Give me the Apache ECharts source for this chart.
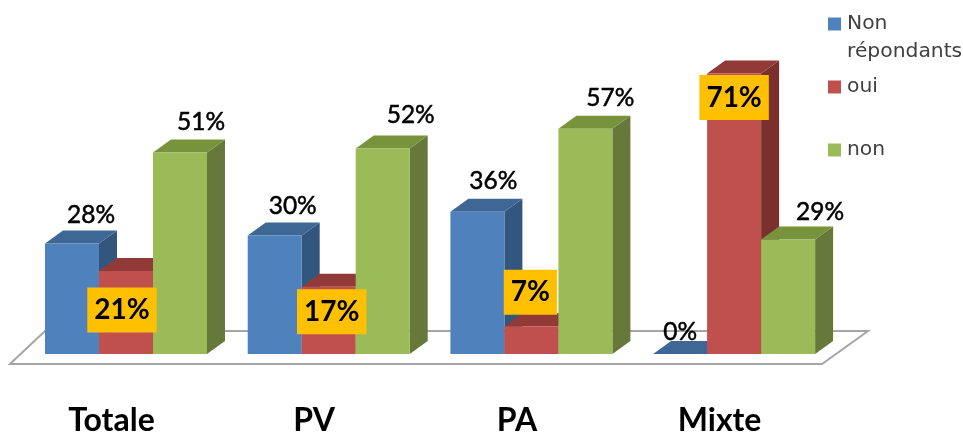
<!DOCTYPE html>
<html><head><meta charset="utf-8">
<style>html,body{margin:0;padding:0;background:#fff}#c{width:963px;height:434px}</style>
<script src="https://cdn.jsdelivr.net/npm/echarts@6/dist/echarts.min.js"></script>
</head><body><div id="c"></div>
<script>
const categories = ['Totale', 'PV', 'PA', 'Mixte'];
const nonRepondants = [28, 30, 36, 0];
const oui = [21, 17, 7, 71];
const non = [51, 52, 57, 29];

// Layout and styling (not data)
const FONT = 'Lato, "Open Sans", sans-serif';
const LEGEND_FONT = '"DejaVu Sans", sans-serif';
const BAR_W = 54, DX = 18, DY = 13;
const palettes = [
  { front: '#4f81bd', top: '#3f6795', side: '#33567f' },
  { front: '#c0504d', top: '#913a38', side: '#7b302e' },
  { front: '#9bbb59', top: '#77933c', side: '#66783a' }
];
const blueLabelShift = [[19, -28], [18, -29], [16, -31], [0, -22]];
const redLabelShift  = [[-4, 39], [3, 25], [-1, -34], [0, 24]];
const greenLabelShift = [[21, -30], [28, -34], [25, -31], [32, -27]];

function bar3d(seriesIdx) {
  const c = palettes[seriesIdx];
  return function (params, api) {
    const base = api.coord([api.value(0), 0]);
    const top = api.coord([api.value(0), api.value(1)]);
    const x0 = base[0] + (seriesIdx - 1.5) * BAR_W;
    const x1 = x0 + BAR_W, yb = base[1], yt = top[1];
    return { type: 'group', children: [
      { type: 'polygon', shape: { points: [[x1, yb], [x1 + DX, yb - DY], [x1 + DX, yt - DY], [x1, yt]] }, style: { fill: c.side } },
      { type: 'polygon', shape: { points: [[x0, yt], [x0 + DX, yt - DY], [x1 + DX, yt - DY], [x1, yt]] }, style: { fill: c.top } },
      { type: 'rect', shape: { x: x0, y: yt, width: BAR_W, height: yb - yt }, style: { fill: c.front } }
    ] };
  };
}

function labelSeries(seriesIdx, values, shifts, boxed) {
  return {
    type: 'custom', z: boxed ? 12 : 10, silent: true, legendHoverLink: false,
    data: values.map((v, i) => [i, v]),
    encode: { x: 0, y: 1 },
    renderItem: function (params, api) {
      const i = params.dataIndex;
      const p = api.coord([api.value(0), api.value(1)]);
      const x = p[0] + (seriesIdx - 1) * BAR_W + shifts[i][0];
      const y = p[1] + shifts[i][1];
      const style = {
        text: api.value(1) + '%', x: x, y: y, align: 'center', verticalAlign: 'middle',
        fill: '#000', font: (boxed ? 'bold 28px ' : '24.5px ') + FONT
      };
      if (boxed) { style.backgroundColor = '#ffc000'; style.padding = [9, 7, 8, 7]; }
      else { style.stroke = '#000'; style.lineWidth = 0.5; }
      return { type: 'text', style: style };
    }
  };
}

const names = ['Non répondants', 'oui', 'non'];
const values = [nonRepondants, oui, non];

function legendAt(name, top, text) {
  return {
    data: [name], left: 828, top: top, itemWidth: 13, itemHeight: 13, itemGap: 0, padding: 0,
    selectedMode: false, icon: 'rect',
    formatter: text ? () => text : undefined,
    textStyle: { fontFamily: LEGEND_FONT, fontSize: 20.3, color: '#404040', padding: [0, 0, 0, 1] }
  };
}

const chart = echarts.init(document.getElementById('c'), null, { renderer: 'canvas' });
chart.setOption({
  animation: false,
  backgroundColor: '#fff',
  grid: { left: 24.65, width: 810.8, top: 38, height: 316, containLabel: false, outerBoundsMode: 'none' },
  xAxis: {
    type: 'category', data: categories,
    axisLine: { show: false }, axisTick: { show: false }, splitLine: { show: false },
    axisLabel: {
      margin: 51, interval: 0, color: '#000',
      fontFamily: FONT, fontWeight: 'bold', fontSize: 32, padding: [0, 29, 0, 0]
    }
  },
  yAxis: { type: 'value', min: 0, max: 80, interval: 20, show: false },
  legend: [legendAt(names[0], 14, 'Non'), legendAt(names[1], 77), legendAt(names[2], 140)],
  graphic: [
    { type: 'polygon', z: 0, shape: { points: [[10, 364], [822, 364], [868, 331], [45, 331]] },
      style: { fill: '#fff', stroke: '#a6a6a6', lineWidth: 2 } },
    { type: 'text', z: 20, left: 847, top: 42,
      style: { text: 'répondants', font: '20.3px "DejaVu Sans", sans-serif', fill: '#404040' } }
  ],
  series: [
    ...names.map((n, s) => ({
      name: n, type: 'custom', z: 2 + s,
      itemStyle: { color: palettes[s].front },
      data: values[s].map((v, i) => [i, v]),
      encode: { x: 0, y: 1 },
      renderItem: bar3d(s)
    })),
    labelSeries(0, nonRepondants, blueLabelShift, false),
    labelSeries(1, oui, redLabelShift, true),
    labelSeries(2, non, greenLabelShift, false)
  ]
});
</script></body></html>
